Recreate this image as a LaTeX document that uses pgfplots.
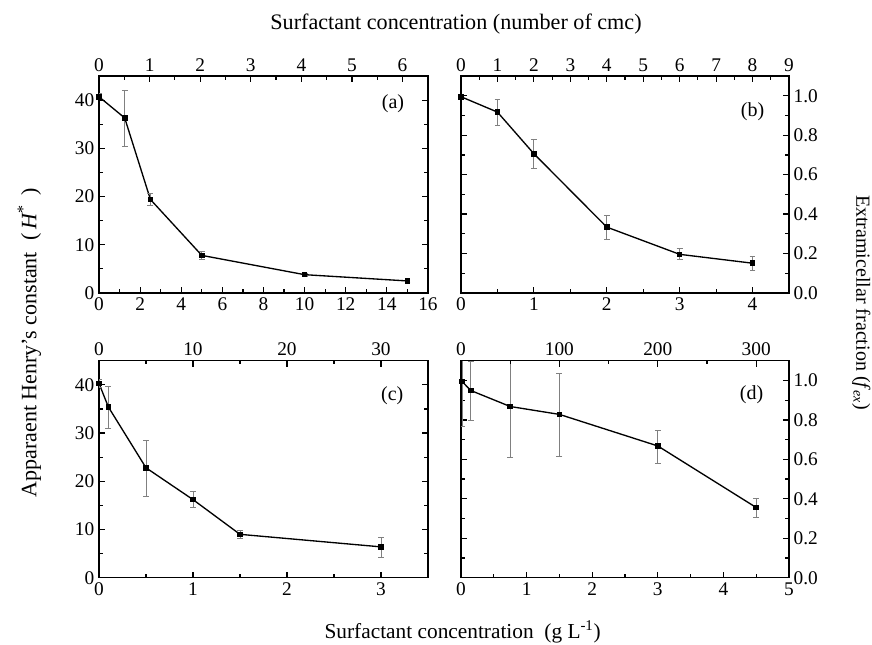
\documentclass[border=0pt]{standalone}
\usepackage{fontspec}
\setmainfont{Liberation Serif}
\usepackage{pgfplots}
\usepackage{pgfplotstable}
\pgfplotsset{compat=1.18}

% x = g/L, y, error plus, error minus
\pgfplotstableread{
x y ep em
0 40.7 0.6 0.6
1.25 36.3 5.8 5.9
2.5 19.4 1.2 1.3
5 7.8 0.8 0.8
10 3.8 0.3 0.3
15 2.5 0.3 0.3
}\dataA
\pgfplotstableread{
x y ep em
0 0.995 0.01 0.01
0.5 0.917 0.066 0.068
1 0.706 0.071 0.073
2 0.334 0.057 0.061
3 0.196 0.029 0.028
4 0.151 0.035 0.037
}\dataB
\pgfplotstableread{
x y ep em
0 40.3 0.8 0.8
0.1 35.4 4.2 4.4
0.5 22.8 5.6 5.9
1 16.2 1.7 1.6
1.5 9.0 0.9 0.8
3 6.4 1.9 2.1
}\dataC
\pgfplotstableread{
x y ep em
0.015 0.995 0.23 0.23
0.15 0.949 0.15 0.149
0.75 0.868 0.256 0.256
1.5 0.828 0.209 0.211
3 0.668 0.079 0.086
4.5 0.356 0.047 0.051
}\dataD

\tikzset{plab/.style={font=\fontsize{15}{17}\selectfont}}
\pgfplotsset{
  panel/.style={
    scale only axis, anchor=south west,
    height=162.75pt,
    tick align=inside,
    axis line style={line width=1.1pt},
    every tick/.style={black, line width=0.9pt},
    major tick length=4.5pt, minor tick length=2.8pt,
    ticklabel style={font=\fontsize{14.5}{16}\selectfont},
    /pgf/number format/assume math mode=true,
    clip mode=individual,
  },
  mainax/.style={panel, xmin=0, xtick pos=left, minor x tick num=1, minor y tick num=1},
  topax/.style={panel, axis x line*=top, axis line style={-, line width=1.1pt},
    hide y axis, ymin=0, ymax=1, xmin=0, minor x tick num=1},
  leftY/.style={ymin=0, ymax=45, ytick={0,10,20,30,40}},
  rightY/.style={ymin=0, ymax=1.1, ytick={0,0.2,0.4,0.6,0.8,1.0},
    yticklabel pos=right, ytick pos=both,
    yticklabel style={/pgf/number format/.cd, fixed, fixed zerofill, precision=1}},
  dataline/.style={black, line width=1.0pt, mark=square*, mark size=1.6pt,
    error bars/.cd, y dir=both, y explicit,
    error bar style={gray, line width=0.6pt},
    error mark options={rotate=90, mark size=2.2pt, gray, line width=0.6pt}},
}

\begin{document}
\begin{tikzpicture}
\useasboundingbox (0pt,0pt) rectangle (654pt,483pt);

% (a)
\begin{axis}[mainax, leftY, at={(74.25pt,263.25pt)}, width=246.75pt,
  xmax=16, xtick={0,2,...,16}]
\addplot[dataline] table[x=x, y=y, y error plus=ep, y error minus=em] {\dataA};
\node[plab] at (axis cs:14.3,39.2) {(a)};
\end{axis}
\begin{axis}[topax, at={(74.25pt,263.25pt)}, width=246.75pt,
  xmax=6.504, xtick={0,1,...,6}]
\end{axis}

% (b)
\begin{axis}[mainax, rightY, at={(345.75pt,263.25pt)}, width=246pt,
  xmax=4.5, xtick={0,1,2,3,4}]
\addplot[dataline] table[x=x, y=y, y error plus=ep, y error minus=em] {\dataB};
\node[plab] at (axis cs:4.0,0.92) {(b)};
\end{axis}
\begin{axis}[topax, at={(345.75pt,263.25pt)}, width=246pt,
  xmax=9, xtick={0,1,...,9}]
\end{axis}

% (c)
\begin{axis}[mainax, leftY, at={(74.25pt,49.7pt)}, width=246.75pt,
  xmax=3.5, xtick={0,1,2,3}]
\addplot[dataline] table[x=x, y=y, y error plus=ep, y error minus=em] {\dataC};
\node[plab] at (axis cs:3.12,37.8) {(c)};
\end{axis}
\begin{axis}[topax, at={(74.25pt,49.7pt)}, width=246.75pt,
  xmax=35, xtick={0,10,20,30}]
\end{axis}

% (d)
\begin{axis}[mainax, rightY, at={(345.75pt,49.7pt)}, width=246pt,
  xmax=5, xtick={0,1,...,5}]
\addplot[dataline] table[x=x, y=y, y error plus=ep, y error minus=em] {\dataD};
\node[plab] at (axis cs:4.43,0.928) {(d)};
\end{axis}
\begin{axis}[topax, at={(345.75pt,49.7pt)}, width=246pt,
  xmax=333.33, xtick={0,100,200,300}]
\end{axis}

\node[font=\fontsize{16.6}{18}\selectfont] at (342pt,465pt)
  {Surfactant concentration (number of cmc)};
\node[font=\fontsize{16}{18}\selectfont] at (347pt,9pt)
  {Surfactant concentration\ \ (g L\textsuperscript{-1})};
\node[rotate=90, font=\fontsize{16.5}{18}\selectfont] at (22pt,226pt)
  {Apparaent Henry's constant\ \ (\,\textit{H}\textsuperscript{\large *}\ \,)};
\node[rotate=-90, inner sep=0pt, font=\fontsize{15}{17}\selectfont] at (646pt,256pt)
  {Extramicellar fraction (\textit{f}\textsubscript{\textit{ex}})};
\end{tikzpicture}
\end{document}
